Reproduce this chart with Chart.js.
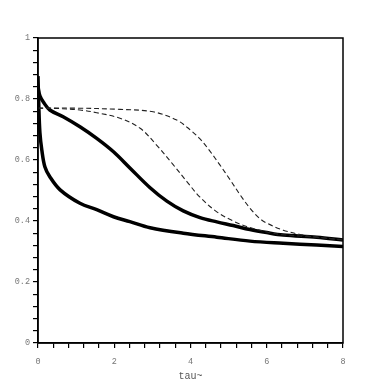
<!DOCTYPE html>
<html>
<head>
<meta charset="utf-8">
<script src="https://cdn.jsdelivr.net/npm/chart.js@4/dist/chart.umd.min.js"></script>
<style>
html,body{margin:0;padding:0;background:#fff;}
#wrap{width:382px;height:382px;}
</style>
</head>
<body>
<div id="wrap"><canvas id="c" width="382" height="382"></canvas></div>
<script>
const xLowerThick = [0, 0.02, 0.05, 0.1, 0.18, 0.31, 0.58, 1.1, 1.54, 1.98, 2.41, 2.94, 3.81, 4.69, 5.56, 6.43, 7.31, 8];
const yLowerThick = [0.875, 0.78, 0.69, 0.633, 0.578, 0.545, 0.502, 0.458, 0.437, 0.414, 0.398, 0.378, 0.36, 0.347, 0.334, 0.327, 0.321, 0.316];

const xUpperThick = [0, 0.05, 0.14, 0.31, 0.66, 1.1, 1.54, 1.98, 2.41, 2.94, 3.38, 3.81, 4.25, 4.69, 5.12, 5.56, 6.0, 6.43, 7.31, 8];
const yUpperThick = [0.84, 0.81, 0.79, 0.764, 0.742, 0.709, 0.671, 0.627, 0.574, 0.509, 0.465, 0.433, 0.411, 0.397, 0.385, 0.372, 0.362, 0.354, 0.347, 0.338];

const xDashedA = [0, 0.5, 1.1, 1.54, 2.15, 2.68, 3.11, 3.55, 3.9, 4.25, 4.69, 5.12, 5.47, 6.0, 6.43, 7.31, 8];
const yDashedA = [0.77, 0.769, 0.764, 0.755, 0.737, 0.704, 0.649, 0.584, 0.53, 0.478, 0.43, 0.4, 0.382, 0.364, 0.355, 0.347, 0.338];

const xDashedB = [0, 1, 2.15, 3.02, 3.64, 3.99, 4.25, 4.51, 4.77, 5.04, 5.3, 5.56, 5.8, 6.0, 6.43, 6.87, 7.31, 8];
const yDashedB = [0.77, 0.77, 0.766, 0.758, 0.731, 0.699, 0.669, 0.629, 0.584, 0.535, 0.486, 0.442, 0.41, 0.393, 0.37, 0.356, 0.347, 0.338];

const xAxisTitle = "tau~";
const xLabeledTicks = [0, 2, 4, 6, 8];
const yLabeledTicks = [0, 0.2, 0.4, 0.6, 0.8, 1];

function pts(xs, ys){ return xs.map((x,i)=>({x:x, y:ys[i]})); }

const frame = {
  id: 'frame',
  afterDraw(chart){
    const a = chart.chartArea, ctx = chart.ctx;
    ctx.save();
    ctx.strokeStyle = '#000';
    ctx.lineWidth = 1.5;
    ctx.strokeRect(a.left, a.top, a.right - a.left, a.bottom - a.top);
    ctx.restore();
  }
};

const tickFont = {family: "'Liberation Mono', 'DejaVu Sans Mono', monospace", size: 8.5};
const near = (v, list) => list.some(t => Math.abs(v - t) < 1e-6);
const lineCommon = {pointRadius: 0, tension: 0.35, fill: false};

new Chart(document.getElementById('c'), {
  type: 'line',
  data: {
    datasets: [
      Object.assign({data: pts(xDashedB, yDashedB), borderColor: '#222', borderWidth: 1.1, borderDash: [5, 3]}, lineCommon),
      Object.assign({data: pts(xDashedA, yDashedA), borderColor: '#222', borderWidth: 1.1, borderDash: [5, 3]}, lineCommon),
      Object.assign({data: pts(xUpperThick, yUpperThick), borderColor: '#000', borderWidth: 3.5}, lineCommon),
      Object.assign({data: pts(xLowerThick, yLowerThick), borderColor: '#000', borderWidth: 3.5}, lineCommon)
    ]
  },
  options: {
    responsive: false,
    animation: false,
    devicePixelRatio: 1,
    layout: {padding: {top: 38, right: 39, left: 0, bottom: 0}},
    plugins: {legend: {display: false}, tooltip: {enabled: false}},
    scales: {
      x: {
        type: 'linear', min: 0, max: 8,
        afterFit(s){ s.height = 39; },
        border: {display: true, color: '#000', width: 1.5},
        grid: {display: true, drawOnChartArea: false, drawTicks: true, tickLength: 5, color: '#000', lineWidth: 1.2},
        ticks: {
          stepSize: 0.4, autoSkip: false, maxRotation: 0, padding: 9,
          color: '#777', font: tickFont,
          callback: (v) => near(v, xLabeledTicks) ? String(Math.round(v)) : ''
        },
        title: {display: true, text: xAxisTitle, color: '#555', font: {family: "'Liberation Mono', 'DejaVu Sans Mono', monospace", size: 10}, padding: {top: 0, bottom: 0}}
      },
      y: {
        type: 'linear', min: 0, max: 1,
        afterFit(s){ s.width = 38; },
        border: {display: true, color: '#000', width: 1.5},
        grid: {display: true, drawOnChartArea: false, drawTicks: true, tickLength: 5, color: '#000', lineWidth: 1.2},
        ticks: {
          stepSize: 0.04, autoSkip: false, padding: 3,
          color: '#777', font: tickFont,
          callback: (v) => {
            if (!near(v, yLabeledTicks)) return '';
            const r = Math.round(v * 10) / 10;
            return (r === 0 || r === 1) ? String(r) : r.toFixed(1);
          }
        }
      }
    }
  },
  plugins: [frame]
});
</script>
</body>
</html>
